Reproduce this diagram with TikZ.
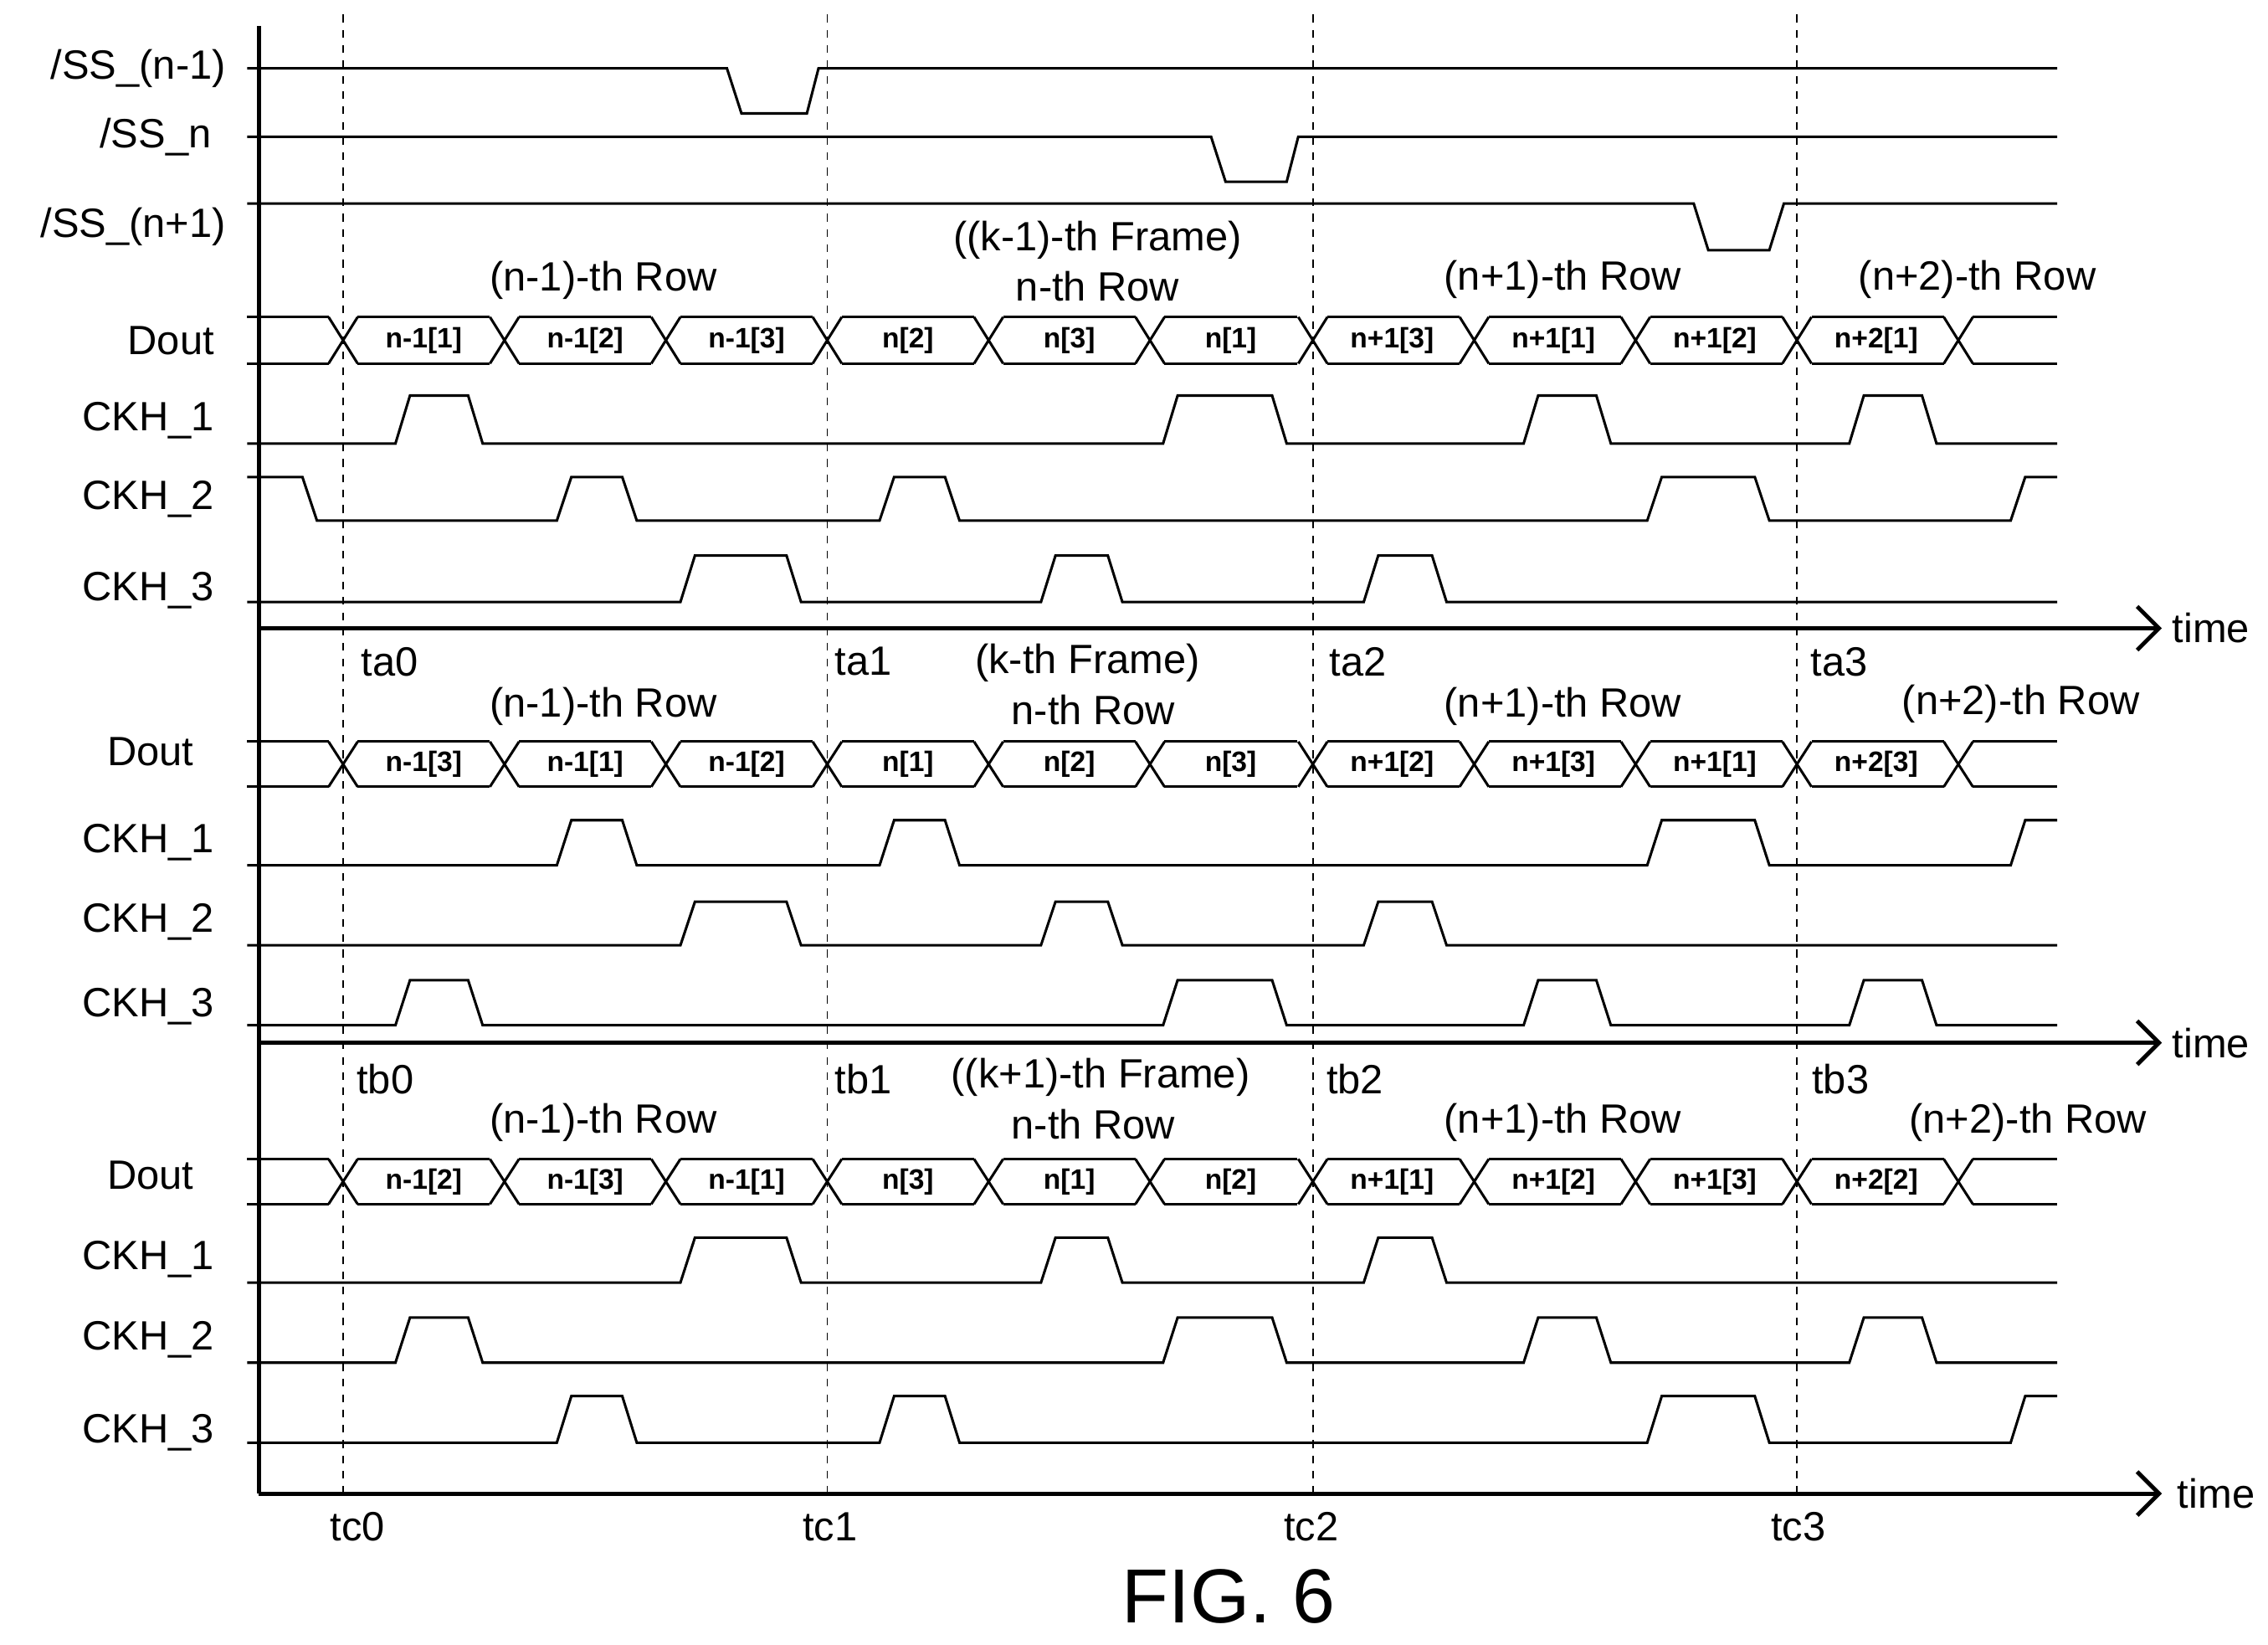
\documentclass[tikz,border=0pt]{standalone}
\usepackage{fontspec}
\setmainfont{Liberation Sans}
\usetikzlibrary{arrows.meta}

\tikzset{
  sig/.style={font=\fontsize{16}{18}\selectfont, anchor=east},
  lbl/.style={font=\fontsize{16}{18}\selectfont},
  cell/.style={font=\bfseries\fontsize{11}{12}\selectfont},
  axis/.style={line width=1.6pt, -{Straight Barb[length=3mm]}},
}
% clock row: #1 low y, #2 high y, #3 rise/fall list, #4 start, #5 end
\newcommand\clkrow[5]{%
  \draw #4 \foreach \r/\f in {#3}{ -- (\r,#1) -- (\r+10,#2) -- (\f,#2) -- (\f+10,#1)} #5;}
% data bus: #1 top y, #2 bottom y, #3 labels
\newcommand\bus[3]{%
  \draw (170,#1) -- (226,#1) (170,#2) -- (226,#2);
  \foreach \c [count=\i from 0] in {236,347,458,569,680,791,903,1014,1125,1236,1347}{
    \draw (\c-10,#1) -- (\c+10,#2) (\c-10,#2) -- (\c+10,#1);
  }
  \foreach \c in {236,347,458,569,680,791,903,1014,1125,1236}{
    \draw (\c+10,#1) -- (\c+101,#1) (\c+10,#2) -- (\c+101,#2);
  }
  \draw (1357,#1) -- (1415,#1) (1357,#2) -- (1415,#2);
  \foreach \t [count=\i from 0] in {#3}{
    \node[cell] at (291.5+111*\i,{(#1+#2)/2}) {\t};
  }}

\begin{document}
\begin{tikzpicture}[x={(0.02cm,0)}, y={(0,-0.02cm)}, line width=1pt]
  \useasboundingbox (0,0) rectangle (1560,1131);

  % axes
  \draw[line width=1.6pt] (178,18) -- (178,1027);
  \draw[axis] (178,432) -- (1487,432) node[right, lbl] {time};
  \draw[axis] (178,717) -- (1487,717) node[right, lbl] {time};
  \draw[axis] (178,1027) -- (1487,1027) node[right, lbl, xshift=2pt] {time};

  % time marks
  \foreach \x in {236,569,903,1236}
    \draw[dashed, line width=0.6pt] (\x,10) -- (\x,1027);

  % select lines
  \draw (170,47) -- (500,47) -- (510,78) -- (555,78) -- (563,47) -- (1415,47);
  \draw (170,94) -- (833,94) -- (843,125) -- (885,125) -- (893,94) -- (1415,94);
  \draw (170,140) -- (1165,140) -- (1175,172) -- (1217,172) -- (1227,140) -- (1415,140);
  \node[sig] at (162,47) {/SS\_(n-1)};
  \node[sig] at (152,94) {/SS\_n};
  \node[sig] at (162,156) {/SS\_(n+1)};

  % k-1 frame
  \node[lbl] at (415,193) {(n-1)-th Row};
  \node[lbl] at (755,165) {((k-1)-th Frame)};
  \node[lbl] at (755,197) {n-th Row};
  \node[lbl] at (1075,192) {(n+1)-th Row};
  \node[lbl] at (1360,192) {(n+2)-th Row};
  \node[sig] at (154,234) {Dout};
  \bus{218}{250}{n-1[1],n-1[2],n-1[3],n[2],n[3],n[1],n+1[3],n+1[1],n+1[2],n+2[1]}
  \node[sig] at (154,289) {CKH\_1};
  \clkrow{305}{272}{272/322,800/875,1048/1098,1272/1322}{(170,305)}{-- (1415,305)}
  \node[sig] at (154,343) {CKH\_2};
  \clkrow{358}{328}{383/428,605/650,1133/1207}{(170,328) -- (208,328) -- (218,358)}{-- (1383,358) -- (1393,328) -- (1415,328)}
  \node[sig] at (154,406) {CKH\_3};
  \clkrow{414}{382}{468/541,716/762,938/985}{(170,414)}{-- (1415,414)}

  % k frame
  \node[lbl] at (268,455) {ta0};
  \node[lbl] at (594,455) {ta1};
  \node[lbl] at (934,455) {ta2};
  \node[lbl] at (1265,455) {ta3};
  \node[lbl] at (415,486) {(n-1)-th Row};
  \node[lbl] at (748,456) {(k-th Frame)};
  \node[lbl] at (752,488) {n-th Row};
  \node[lbl] at (1075,486) {(n+1)-th Row};
  \node[lbl] at (1390,484) {(n+2)-th Row};
  \node[sig] at (140,517) {Dout};
  \bus{510}{541}{n-1[3],n-1[1],n-1[2],n[1],n[2],n[3],n+1[2],n+1[3],n+1[1],n+2[3]}
  \node[sig] at (154,579) {CKH\_1};
  \clkrow{595}{564}{383/428,605/650,1133/1207}{(170,595)}{-- (1383,595) -- (1393,564) -- (1415,564)}
  \node[sig] at (154,634) {CKH\_2};
  \clkrow{650}{620}{468/541,716/762,938/985}{(170,650)}{-- (1415,650)}
  \node[sig] at (154,692) {CKH\_3};
  \clkrow{705}{674}{272/322,800/875,1048/1098,1272/1322}{(170,705)}{-- (1415,705)}

  % k+1 frame
  \node[lbl] at (265,742) {tb0};
  \node[lbl] at (594,742) {tb1};
  \node[lbl] at (932,742) {tb2};
  \node[lbl] at (1266,742) {tb3};
  \node[lbl] at (415,772) {(n-1)-th Row};
  \node[lbl] at (757,741) {((k+1)-th Frame)};
  \node[lbl] at (752,773) {n-th Row};
  \node[lbl] at (1075,772) {(n+1)-th Row};
  \node[lbl] at (1395,772) {(n+2)-th Row};
  \node[sig] at (140,808) {Dout};
  \bus{797}{828}{n-1[2],n-1[3],n-1[1],n[3],n[1],n[2],n+1[1],n+1[2],n+1[3],n+2[2]}
  \node[sig] at (154,866) {CKH\_1};
  \clkrow{882}{851}{468/541,716/762,938/985}{(170,882)}{-- (1415,882)}
  \node[sig] at (154,921) {CKH\_2};
  \clkrow{937}{906}{272/322,800/875,1048/1098,1272/1322}{(170,937)}{-- (1415,937)}
  \node[sig] at (154,985) {CKH\_3};
  \clkrow{992}{960}{383/428,605/650,1133/1207}{(170,992)}{-- (1383,992) -- (1393,960) -- (1415,960)}

  \node[lbl] at (246,1050) {tc0};
  \node[lbl] at (571,1050) {tc1};
  \node[lbl] at (902,1050) {tc2};
  \node[lbl] at (1237,1050) {tc3};

  \node[font=\fontsize{30}{34}\selectfont] at (845,1098) {FIG. 6};
\end{tikzpicture}
\end{document}
